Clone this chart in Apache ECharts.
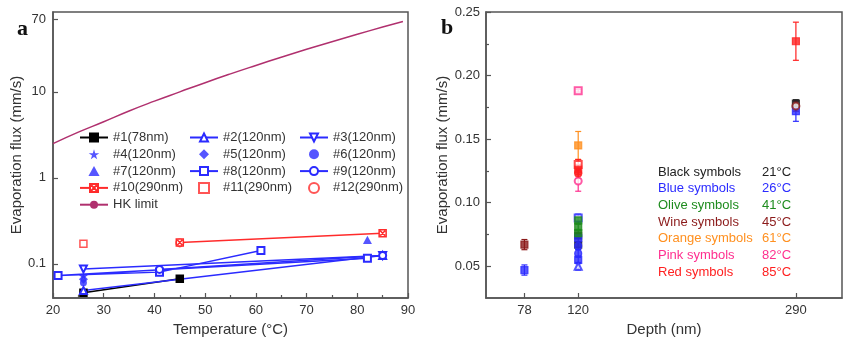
<!DOCTYPE html>
<html>
<head>
<meta charset="utf-8">
<script src="https://cdn.jsdelivr.net/npm/echarts@6/dist/echarts.min.js"></script>
<style>
  html, body { margin: 0; padding: 0; background: #fff; }
  #chart { width: 865px; height: 351px; }
</style>
</head>
<body>
<div id="chart"></div>
<script>
// panel a: temperature (°C) vs evaporation flux (mm/s)
const s1 = [[26, 0.046], [45, 0.067]];
const s2 = [[26, 0.049], [85, 0.125]];
const s3 = [[26, 0.087], [85, 0.125]];
const s4 = [[26, 0.072]];
const s5 = [[26, 0.066]];
const s6 = [[26, 0.060]];
const s7 = [[82, 0.19]];
const s8 = [[82, 0.116], [21, 0.073], [41, 0.080], [61, 0.143]];
const s9 = [[41, 0.086], [85, 0.125]];
const s10 = [[45, 0.177], [85, 0.227]];
const s11 = [[26, 0.171]];
const s12 = [[45, 0.175]];
const hkTemp = [20, 25, 30, 35, 40, 45, 50, 55, 60, 65, 70, 75, 80, 85, 89];
const hkFlux = [2.5, 3.4, 4.5, 6.0, 7.8, 10, 12.8, 16.2, 20.3, 25.3, 31.3, 38.4, 46.8, 56.8, 66];
const logLabels = [0.1, 1, 10, 70];

// panel b: depth (nm) vs flux, [depth, flux, error]
const depthTicks = [78, 120, 290];
const fluxTicks = [0.05, 0.10, 0.15, 0.20, 0.25];
const fluxMinor = [0.075, 0.125, 0.175, 0.225];
const groupNames = ['Black symbols', 'Blue symbols', 'Olive symbols', 'Wine symbols', 'Orange symbols', 'Pink symbols', 'Red symbols'];
const groupTemps = ['21°C', '26°C', '41°C', '45°C', '61°C', '82°C', '85°C'];
const bBlack = [[120, 0.074, 0.002], [120, 0.067, 0.002], [290, 0.178, 0.003]];
const bBlue = [[78, 0.047, 0.004], [120, 0.088, 0.003], [120, 0.072, 0.003], [120, 0.066, 0.003], [120, 0.060, 0.003], [120, 0.055, 0.003], [120, 0.050, 0.003], [290, 0.172, 0.008]];
const bOlive = [[120, 0.086, 0.003], [120, 0.081, 0.003], [120, 0.076, 0.003]];
const bWine = [[78, 0.067, 0.004], [290, 0.176, 0.004]];
const bOrange = [[120, 0.145, 0.011]];
const bPink = [[120, 0.188, 0.001], [120, 0.117, 0.008]];
const bRed = [[120, 0.130, 0.004], [120, 0.126, 0.004], [120, 0.123, 0.004], [290, 0.227, 0.015]];

(function(){
  const el = document.getElementById('chart');
  const chart = echarts.init(el);
  const FONT = '"Liberation Sans", Arial, sans-serif';
  const AX = '#555', TXT = '#333';
  const BLUE = '#2b2bff', RED = '#ff2b2b', HK = '#b0306e';
  const groupColors = ['#222222', '#2b2bff', '#1e8c1e', '#8b1a1a', '#ff9020', '#ff2f8f', '#ff2020'];
  const groupData = [bBlack, bBlue, bOlive, bWine, bOrange, bPink, bRed];
  const groupSyms = [
    ['rect', 'rect', 'rect'],
    ['rect', 'emptyRect', 'rect', 'circle', 'circle', 'rect', 'emptyTriangle', 'rect'],
    ['rect', 'rect', 'rect'],
    ['rect', 'emptyCircle'],
    ['rect'],
    ['emptyRect', 'emptyCircle'],
    ['emptyRect', 'rect', 'circle', 'rect']
  ];
  // path symbols keep their aspect in the legend too
  const SQ = 'path://M0,0H10V10H0Z';
  const XSQ = 'path://M0,0H10V10H0Z M1.5,1.5L8.5,8.5 M8.5,1.5L1.5,8.5';
  const STAR = 'path://M50,0L61,35L98,35L68,57L79,91L50,70L21,91L32,57L2,35L39,35Z';
  const DIAM = 'path://M5,0L10,5L5,10L0,5Z';
  const TRI = 'path://M5,0L10,9L0,9Z';

  const axisBase = {
    axisLine: { show: true, lineStyle: { color: AX, width: 1.5 } },
    axisTick: { inside: true, length: 5, lineStyle: { color: AX, width: 1.2 } },
    splitLine: { show: false },
    axisLabel: { color: TXT, fontSize: 13, fontFamily: FONT },
    nameLocation: 'middle',
    nameTextStyle: { color: TXT, fontSize: 15, fontFamily: FONT }
  };

  function lineSer(name, data, color, symbol, extra) {
    return Object.assign({
      name, type: 'line', xAxisIndex: 0, yAxisIndex: 0, data,
      symbol, symbolSize: 7, showSymbol: true, symbolKeepAspect: true,
      lineStyle: { color, width: 1.5 },
      itemStyle: { color, borderColor: color, borderWidth: 1.5 }
    }, extra || {});
  }
  function dotSer(name, data, color, symbol, size, fill, bw) {
    return {
      name, type: 'scatter', xAxisIndex: 0, yAxisIndex: 0, data,
      symbol, symbolSize: size, symbolKeepAspect: true,
      itemStyle: { color: fill || color, borderColor: color, borderWidth: bw || 0 }
    };
  }

  const series = [
    { name: 'HK limit', type: 'line', xAxisIndex: 0, yAxisIndex: 0, smooth: true, symbol: 'none',
      data: hkTemp.map((t, i) => [t, hkFlux[i]]), lineStyle: { color: HK, width: 1.5 }, itemStyle: { color: HK } },
    lineSer('#1(78nm)', s1, '#000', 'rect'),
    lineSer('#2(120nm)', s2, BLUE, 'emptyTriangle'),
    lineSer('#3(120nm)', s3, BLUE, 'emptyTriangle', { symbolRotate: 180 }),
    dotSer('#4(120nm)', s4, BLUE, STAR, 9),
    dotSer('#5(120nm)', s5, BLUE, DIAM, 9),
    dotSer('#6(120nm)', s6, BLUE, 'circle', 7),
    dotSer('#7(120nm)', s7, BLUE, TRI, 9),
    lineSer('#8(120nm)', s8, BLUE, 'emptyRect'),
    lineSer('#9(120nm)', s9, BLUE, 'emptyCircle'),
    lineSer('#10(290nm)', s10, RED, XSQ, { itemStyle: { color: '#fff', borderColor: RED, borderWidth: 1.5 } }),
    dotSer('#11(290nm)', s11, RED, SQ, 7, '#fff', 1.5),
    dotSer('#12(290nm)', s12, RED, 'emptyCircle', 7, null, 1.5)
  ];

  groupData.forEach((arr, g) => {
    const color = groupColors[g];
    series.push({
      name: groupNames[g], type: 'custom', xAxisIndex: 1, yAxisIndex: 1,
      data: arr, itemStyle: { color }, z: 2,
      renderItem: function(params, api) {
        const x = api.value(0), y = api.value(1), e = api.value(2);
        const hi = api.coord([x, y + e]), lo = api.coord([x, y - e]);
        const style = { stroke: color, lineWidth: 1.2 };
        return { type: 'group', children: [
          { type: 'line', shape: { x1: hi[0], y1: hi[1], x2: lo[0], y2: lo[1] }, style },
          { type: 'line', shape: { x1: hi[0] - 3, y1: hi[1], x2: hi[0] + 3, y2: hi[1] }, style },
          { type: 'line', shape: { x1: lo[0] - 3, y1: lo[1], x2: lo[0] + 3, y2: lo[1] }, style }
        ] };
      }
    });
    series.push({
      name: groupNames[g], type: 'scatter', xAxisIndex: 1, yAxisIndex: 1, z: 3,
      symbolSize: 7,
      data: arr.map((d, i) => ({ value: [d[0], d[1]], symbol: groupSyms[g][i] })),
      itemStyle: { color, borderColor: color, borderWidth: 1.2 }
    });
  });

  const legText = { color: TXT, fontSize: 13, fontFamily: FONT };
  const legA = (left, names) => ({
    orient: 'vertical', left, top: 126, itemWidth: 28, itemHeight: 10, itemGap: 3.8,
    selectedMode: false, textStyle: legText, data: names
  });
  const rich = {};
  groupNames.forEach((n, i) => {
    rich['n' + i] = { color: groupColors[i], fontSize: 13, fontFamily: FONT, width: 104 };
    rich['t' + i] = { color: groupColors[i], fontSize: 13, fontFamily: FONT };
  });
  const panelLabel = { fontFamily: '"Liberation Serif", serif', fontWeight: 'bold', fontSize: 22, color: '#111' };

  chart.setOption({
    animation: false,
    backgroundColor: '#fff',
    title: [
      { text: 'a', left: 12, top: 13, textStyle: panelLabel },
      { text: 'b', left: 436, top: 12, textStyle: panelLabel }
    ],
    legend: [
      legA(74, ['#1(78nm)', '#4(120nm)', '#7(120nm)', '#10(290nm)', 'HK limit']),
      legA(184, ['#2(120nm)', '#5(120nm)', '#8(120nm)', '#11(290nm)']),
      legA(294, ['#3(120nm)', '#6(120nm)', '#9(120nm)', '#12(290nm)']),
      { orient: 'vertical', left: 648, top: 160, icon: 'none', itemWidth: 0, itemHeight: 14, itemGap: 3.2,
        selectedMode: false, data: groupNames,
        formatter: name => { const i = groupNames.indexOf(name); return '{n' + i + '|' + name + '}{t' + i + '|' + groupTemps[i] + '}'; },
        textStyle: { fontSize: 13, fontFamily: FONT, rich } }
    ],
    grid: [
      { left: 53, top: 12, width: 355, height: 286, show: true, borderColor: AX, borderWidth: 1.5 },
      { left: 486, top: 12, width: 356, height: 286, show: true, borderColor: AX, borderWidth: 1.5 }
    ],
    xAxis: [
      Object.assign({}, axisBase, { type: 'value', gridIndex: 0, min: 20, max: 90, interval: 10,
        minorTick: { show: true, splitNumber: 2, length: 3, lineStyle: { color: AX, width: 1.2 } },
        axisLabel: Object.assign({}, axisBase.axisLabel, { margin: 6 }),
        name: 'Temperature (°C)', nameGap: 19 }),
      Object.assign({}, axisBase, { type: 'value', gridIndex: 1, min: 48, max: 326,
        axisTick: Object.assign({}, axisBase.axisTick, { customValues: depthTicks }),
        axisLabel: Object.assign({}, axisBase.axisLabel, { margin: 6, customValues: depthTicks }),
        name: 'Depth (nm)', nameGap: 19 })
    ],
    yAxis: [
      Object.assign({}, axisBase, { type: 'log', gridIndex: 0, min: 0.04, max: 85, logBase: 10,
        axisTick: Object.assign({}, axisBase.axisTick, { customValues: logLabels }),
        axisLabel: Object.assign({}, axisBase.axisLabel, { margin: 7, customValues: logLabels }),
        name: 'Evaporation flux (mm/s)', nameGap: 13 }),
      Object.assign({}, axisBase, { type: 'value', gridIndex: 1, min: 0.025, max: 0.25,
        axisTick: Object.assign({}, axisBase.axisTick, { customValues: fluxTicks }),
        axisLabel: Object.assign({}, axisBase.axisLabel, { margin: 6, customValues: fluxTicks,
          formatter: v => v.toFixed(2) }),
        name: 'Evaporation flux (mm/s)', nameGap: 29 }),
      { type: 'value', gridIndex: 1, position: 'left', min: 0.025, max: 0.25,
        axisLine: { show: false }, axisLabel: { show: false }, splitLine: { show: false },
        axisTick: { inside: true, length: 3, customValues: fluxMinor, lineStyle: { color: AX, width: 1.2 } } }
    ],
    series
  });
})();
</script>
</body>
</html>
